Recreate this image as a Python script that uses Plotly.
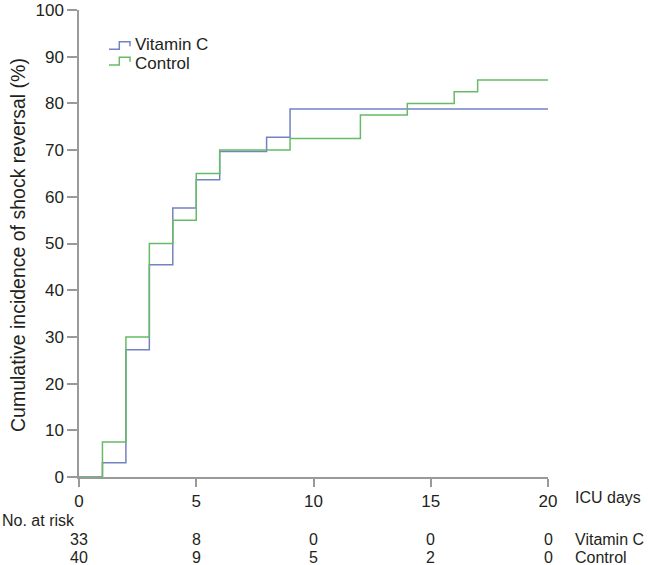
import plotly.graph_objects as go

# Data
vitc_days = [0, 1, 2, 3, 4, 5, 6, 8, 9, 20]
vitc_pct = [0, 3.03, 27.27, 45.45, 57.58, 63.64, 69.70, 72.73, 78.79, 78.79]
ctrl_days = [0, 1, 2, 3, 4, 5, 6, 9, 12, 14, 16, 17, 20]
ctrl_pct = [0, 7.5, 30, 50, 55, 65, 70, 72.5, 77.5, 80, 82.5, 85, 85]

series_names = ["Vitamin C", "Control"]
risk_times = [0, 5, 10, 15, 20]
risk_vitc = [33, 8, 0, 0, 0]
risk_ctrl = [40, 9, 5, 2, 0]
x_ticks = [0, 5, 10, 15, 20]
y_ticks = [0, 10, 20, 30, 40, 50, 60, 70, 80, 90, 100]

BLUE = "#7382c4"
GREEN = "#66bb66"
TXT = "#231f20"
AX = "#9a9a9a"
FONT = "Liberation Sans, Arial, sans-serif"
FS = 17

W, H = 650, 565
PLOT_L, PLOT_R, PLOT_T, PLOT_B = 79, 548, 10, 477   # pixels of plot area
L, T = PLOT_L, PLOT_T
PW, PH = PLOT_R - PLOT_L, PLOT_B - PLOT_T


def px(x):  # x pixel -> paper
    return (x - PLOT_L) / PW


def py(y):  # y pixel -> paper
    return (PLOT_B - y) / PH


fig = go.Figure()
fig.add_trace(go.Scatter(x=vitc_days, y=vitc_pct, mode="lines", line_shape="hv",
                         line=dict(color=BLUE, width=1.5), name=series_names[0]))
fig.add_trace(go.Scatter(x=ctrl_days, y=ctrl_pct, mode="lines", line_shape="hv",
                         line=dict(color=GREEN, width=1.5), name=series_names[1]))

fig.update_layout(
    width=W, height=H,
    margin=dict(l=L, r=W - L - PW, t=T, b=H - T - PH, pad=0),
    paper_bgcolor="white", plot_bgcolor="white",
    font=dict(family=FONT, size=FS, color=TXT),
    showlegend=False,
    xaxis=dict(range=[0, 20], tickvals=x_ticks, showgrid=False, zeroline=False,
               showline=True, linecolor=AX, linewidth=1.5, ticks="outside",
               ticklen=8, tickcolor=AX, tickwidth=1.5, automargin=False,
               ticklabeloverflow="allow"),
    yaxis=dict(range=[0, 100], tickvals=y_ticks, showgrid=False, zeroline=False,
               showline=True, linecolor=AX, linewidth=1.5, ticks="outside",
               ticklen=10, tickcolor=AX, tickwidth=1.5, automargin=False,
               ticklabeloverflow="allow"),
)

# legend keys (step glyphs) drawn as decoration
shapes = []
for (ylo, yhi, col) in [(49.3, 41.7, BLUE), (65.0, 57.3, GREEN)]:
    pts = [(109, ylo), (119.3, ylo), (119.3, yhi), (130, yhi), (130, yhi + 4.5)]
    path = "M " + " L ".join(f"{px(a):.5f},{py(b):.5f}" for a, b in pts)
    shapes.append(dict(type="path", xref="paper", yref="paper", path=path,
                       line=dict(color=col, width=1.5)))
fig.update_layout(shapes=shapes)

ann = []
ann.append(dict(x=px(133), y=py(44.5), xref="paper", yref="paper", text=series_names[0],
                showarrow=False, xanchor="left", yanchor="middle", font=dict(size=17)))
ann.append(dict(x=px(133), y=py(63.5), xref="paper", yref="paper", text=series_names[1],
                showarrow=False, xanchor="left", yanchor="middle", font=dict(size=17)))
ann.append(dict(x=px(18), y=py(245), xref="paper", yref="paper",
                text="Cumulative incidence of shock reversal (%)", textangle=-90,
                showarrow=False, xanchor="center", yanchor="middle",
                font=dict(size=19.5, color=TXT)))
ann.append(dict(x=px(574), y=py(498), xref="paper", yref="paper", text="ICU days",
                showarrow=False, xanchor="left", yanchor="middle", font=dict(size=16),
                borderpad=0))
ann.append(dict(x=px(1), y=py(520), xref="paper", yref="paper", text="No. at risk",
                showarrow=False, xanchor="left", yanchor="middle", font=dict(size=16),
                borderpad=0))
RF = 16
for t, v, c in zip(risk_times, risk_vitc, risk_ctrl):
    ann.append(dict(x=t, y=py(539), xref="x", yref="paper", text=str(v), showarrow=False,
                    xanchor="center", yanchor="middle", font=dict(size=RF), borderpad=0))
    ann.append(dict(x=t, y=py(557), xref="x", yref="paper", text=str(c), showarrow=False,
                    xanchor="center", yanchor="middle", font=dict(size=RF), borderpad=0))
ann.append(dict(x=px(574), y=py(539), xref="paper", yref="paper", text=series_names[0],
                showarrow=False, xanchor="left", yanchor="middle", font=dict(size=RF),
                borderpad=0))
ann.append(dict(x=px(574), y=py(557), xref="paper", yref="paper", text=series_names[1],
                showarrow=False, xanchor="left", yanchor="middle", font=dict(size=RF),
                borderpad=0))
fig.update_layout(annotations=ann)

fig.write_html("out.html", config={"displayModeBar": False},
               post_script="document.body.style.margin='0';"
                           "document.body.style.overflow='hidden';")
